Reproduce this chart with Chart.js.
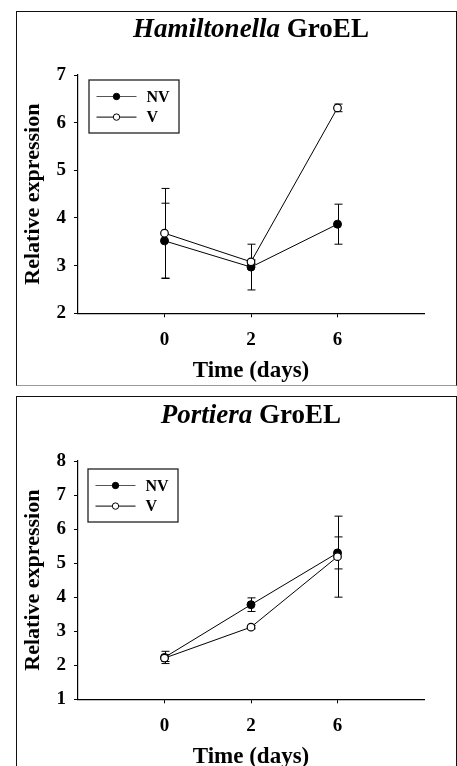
<!DOCTYPE html>
<html>
<head>
<meta charset="utf-8">
<script src="https://cdn.jsdelivr.net/npm/chart.js@4.4.0/dist/chart.umd.min.js"></script>
<style>
  html, body { margin: 0; padding: 0; background: #fff; overflow: hidden; }
  body { width: 457px; height: 766px; position: relative; }
  .frame { position: absolute; box-sizing: border-box; border: 1.5px solid #111; }
  .panel { position: absolute; left: 0; width: 457px; height: 395px; }
</style>
</head>
<body>
<div class="frame" style="left:16px;top:10.5px;width:441px;height:375px;border-bottom-color:#9a9a9a"></div>
<div class="frame" style="left:16px;top:395.5px;width:441px;height:420px"></div>
<div class="panel" style="top:0"><canvas id="chHamilton" width="457" height="395"></canvas></div>
<div class="panel" style="top:386px"><canvas id="chPortiera" width="457" height="395"></canvas></div>

<script>
// jours d'échantillonnage (positions régulières sur l'axe)
const days = ['0', '2', '6'];
const dayIdx = [0, 1, 2];

// Hamiltonella GroEL
const hamNV = [3.52, 2.97, 3.87];
const hamNVerr = [0.79, 0.48, 0.42];
const hamV = [3.68, 3.08, 6.31];
const hamVerr = [0.94, 0.04, 0.08];
const hamRange = [2, 7];

// Portiera GroEL
const porNV = [2.23, 3.78, 5.30];
const porNVerr = [0.18, 0.20, 0.47];
const porV = [2.21, 3.12, 5.19];
const porVerr = [0.10, 0.05, 1.19];
const porRange = [1, 8];

const SERIF = "'Liberation Serif', 'Times New Roman', serif";
const H = 395;
const PLOT_TOP = 75, PLOT_BOTTOM = 313.3, Y_WIDTH = 78, RIGHT_PAD = 33;

const pts = (vals, errs) => vals.map((v, i) => ({ x: dayIdx[i], y: v, err: errs[i] }));

// barres d'erreur, dessinées sous les marqueurs
const errorBars = {
  id: 'errorBars',
  beforeDatasetsDraw(chart) {
    const { ctx, scales: { x, y } } = chart;
    ctx.save();
    ctx.strokeStyle = '#000';
    ctx.lineWidth = 1;
    chart.data.datasets.forEach(ds => {
      ds.data.forEach(p => {
        const px = Math.round(x.getPixelForValue(p.x)) + 0.5;
        const hi = y.getPixelForValue(p.y + p.err);
        const lo = y.getPixelForValue(p.y - p.err);
        ctx.beginPath();
        ctx.moveTo(px, hi); ctx.lineTo(px, lo);
        ctx.moveTo(px - 4, hi); ctx.lineTo(px + 4, hi);
        ctx.moveTo(px - 4, lo); ctx.lineTo(px + 4, lo);
        ctx.stroke();
      });
    });
    ctx.restore();
  }
};

// titre mixte italique / gras centré sur la zone du graphique
const panelTitle = {
  id: 'panelTitle',
  afterDraw(chart, args, opts) {
    const { ctx, chartArea: ca } = chart;
    const fonts = opts.parts.map(p => `${p.italic ? 'italic ' : ''}bold 27px ${SERIF}`);
    ctx.save();
    const widths = opts.parts.map((p, i) => { ctx.font = fonts[i]; return ctx.measureText(p.text).width; });
    let x = (ca.left + ca.right) / 2 - widths.reduce((a, b) => a + b, 0) / 2;
    ctx.fillStyle = '#000';
    ctx.textBaseline = 'alphabetic';
    opts.parts.forEach((p, i) => {
      ctx.font = fonts[i];
      ctx.fillText(p.text, x, ca.top - 38);
      x += widths[i];
    });
    ctx.restore();
  }
};

// légende encadrée dans le coin haut gauche
const boxLegend = {
  id: 'boxLegend',
  afterDraw(chart, args, opts) {
    const { ctx, chartArea: ca } = chart;
    const bx = ca.left + opts.dx, by = ca.top + opts.dy;
    ctx.save();
    ctx.strokeStyle = '#222';
    ctx.lineWidth = 1.3;
    ctx.strokeRect(bx, by, 90, 53);
    ctx.font = `bold 16px ${SERIF}`;
    ctx.textBaseline = 'middle';
    chart.data.datasets.forEach((ds, i) => {
      const ry = by + 16.5 + i * 20.6;
      ctx.strokeStyle = ds.legendLine || ds.borderColor;
      ctx.lineWidth = 1;
      ctx.beginPath();
      ctx.moveTo(bx + 7.5, ry); ctx.lineTo(bx + 47.5, ry);
      ctx.stroke();
      ctx.beginPath();
      ctx.arc(bx + 27.5, ry, 3.2, 0, Math.PI * 2);
      ctx.fillStyle = ds.pointBackgroundColor;
      ctx.fill();
      ctx.strokeStyle = '#000';
      ctx.stroke();
      ctx.fillStyle = '#000';
      ctx.fillText(ds.label, bx + 57.5, ry + 1);
    });
    ctx.restore();
  }
};

function makeChart(id, nv, nvErr, v, vErr, range, titleParts, legendPos) {
  const ctx = document.getElementById(id).getContext('2d');
  return new Chart(ctx, {
    type: 'line',
    data: {
      datasets: [
        { label: 'NV', data: pts(nv, nvErr), borderColor: '#000', borderWidth: 1, legendLine: '#555',
          pointRadius: 4, pointBackgroundColor: '#000', pointBorderColor: '#000', pointBorderWidth: 1, order: 1 },
        { label: 'V', data: pts(v, vErr), borderColor: '#000', borderWidth: 1,
          pointRadius: 3.8, pointBackgroundColor: '#fff', pointBorderColor: '#000', pointBorderWidth: 1.2, order: 0 }
      ]
    },
    options: {
      responsive: false,
      animation: false,
      layout: { padding: { top: PLOT_TOP, right: RIGHT_PAD, bottom: 0, left: 0 } },
      plugins: {
        legend: { display: false },
        tooltip: { enabled: false },
        panelTitle: { parts: titleParts },
        boxLegend: legendPos
      },
      scales: {
        x: {
          type: 'linear', min: -1, max: 3,
          afterBuildTicks: s => { s.ticks = dayIdx.map(d => ({ value: d })); },
          afterFit: s => { s.height = H - PLOT_BOTTOM; },
          ticks: { callback: val => days[val], color: '#000', padding: 11,
                   font: { family: SERIF, size: 19, weight: 'bold' } },
          grid: { drawOnChartArea: false, drawTicks: true, tickLength: 4, color: '#000' },
          border: { color: '#000', width: 1.2 },
          title: { display: true, text: 'Time (days)', color: '#000', padding: { top: 0, bottom: 10 },
                   font: { family: SERIF, size: 23, weight: 'bold' } }
        },
        y: {
          min: range[0], max: range[1],
          afterFit: s => { s.width = Y_WIDTH; },
          ticks: { stepSize: 1, color: '#000', padding: 8,
                   font: { family: SERIF, size: 19, weight: 'bold' } },
          grid: { drawOnChartArea: false, drawTicks: true, tickLength: 4, color: '#000' },
          border: { color: '#000', width: 1.2 },
          title: { display: true, text: 'Relative expression', color: '#000', padding: { top: 20, bottom: 0 },
                   font: { family: SERIF, size: 22, weight: 'bold' } }
        }
      }
    },
    plugins: [errorBars, panelTitle, boxLegend]
  });
}

makeChart('chHamilton', hamNV, hamNVerr, hamV, hamVerr, hamRange,
  [{ text: 'Hamiltonella', italic: true }, { text: ' GroEL' }], { dx: 11, dy: 5 });
makeChart('chPortiera', porNV, porNVerr, porV, porVerr, porRange,
  [{ text: 'Portiera', italic: true }, { text: ' GroEL' }], { dx: 10, dy: 8 });
</script>
</body>
</html>
